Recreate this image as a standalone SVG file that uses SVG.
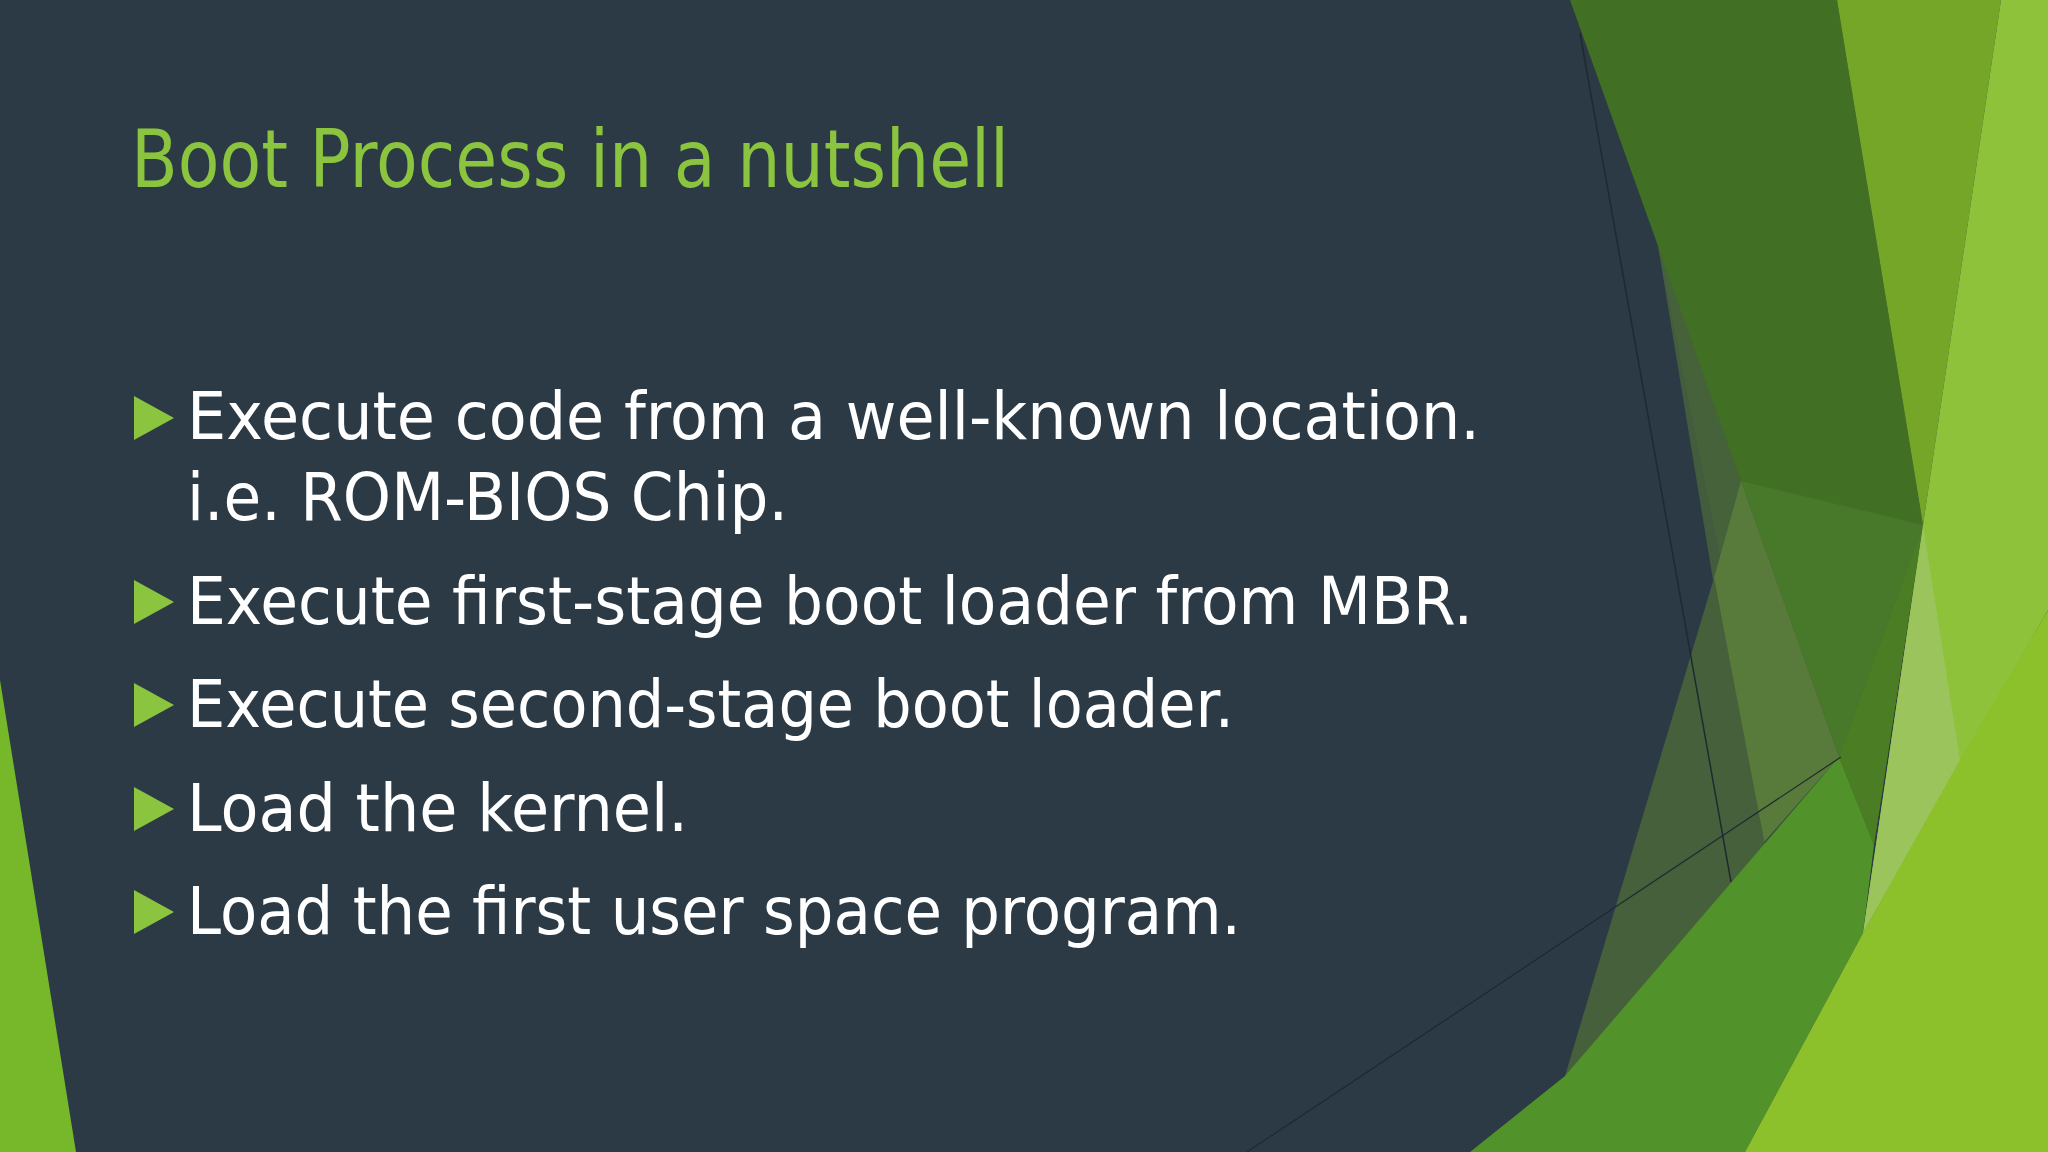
<svg xmlns="http://www.w3.org/2000/svg" width="2048" height="1152" viewBox="0 0 2048 1152">
<style>
.t{font-family:"DejaVu Sans","Liberation Sans",sans-serif;fill:#ffffff;font-size:66px}
.b{fill:#8bc43f}
</style>
<rect width="2048" height="1152" fill="#2b3a44"/>
<g id="facets">
<polygon points="0,680 76,1152 0,1152" fill="#76b82a"/>
<polygon points="1570,0 1837,0 1923,525 1874,845 1741,660 1658,246" fill="#416f24"/>
<polygon points="1741,481 1923,525 1839,757" fill="#48782a"/>
<polygon points="1658,246 1741,481 1839,757 1761,847 1713,580" fill="#46603e" opacity="0.9"/>
<polygon points="1741,481 1839,757 1763,843 1714,578" fill="#587a3a"/>
<polygon points="1714,578 1765,845 1560,1152 1565,1076" fill="#46603c"/>
<polygon points="1837,0 2001,0 1923,525" fill="#76a628"/>
<polygon points="2001,0 2048,0 2048,610 1863,933 1923,525" fill="#8dc23a"/>
<polygon points="1923,525 1960,760 1863,933" fill="#9bc55c"/>
<polygon points="1839,757 1874,845 1863,933 1745,1152 1470,1152 1565,1076" fill="#52922a"/>
<polygon points="1839,757 1923,525 1874,845" fill="#4a7d24"/>
<polygon points="2048,610 2048,1152 1745,1152 1863,933 1960,760" fill="#8cc12b"/>
<line x1="1580" y1="33" x2="1731" y2="882" stroke="#1e2a30" stroke-width="1.5"/>
<line x1="1247" y1="1152" x2="1841" y2="757" stroke="#1e2a30" stroke-width="1.2"/>
</g>
<text x="131" y="187" font-family="DejaVu Sans, sans-serif" font-size="80" fill="#8bc43f" textLength="878" lengthAdjust="spacingAndGlyphs">Boot Process in a nutshell</text>
<g id="bullets">
<polygon class="b" points="134,396 174,418 134,440"/>
<polygon class="b" points="134,580 174,602 134,624"/>
<polygon class="b" points="134,683 174,705 134,727"/>
<polygon class="b" points="134,787 174,809 134,831"/>
<polygon class="b" points="134,890 174,912 134,934"/>
<text class="t" x="187" y="439" textLength="1293" lengthAdjust="spacingAndGlyphs">Execute code from a well-known location.</text>
<text class="t" x="187" y="520" textLength="601" lengthAdjust="spacingAndGlyphs">i.e. ROM-BIOS Chip.</text>
<text class="t" x="187" y="624" textLength="1286" lengthAdjust="spacingAndGlyphs">Execute first-stage boot loader from MBR.</text>
<text class="t" x="187" y="727" textLength="1047" lengthAdjust="spacingAndGlyphs">Execute second-stage boot loader.</text>
<text class="t" x="187" y="831" textLength="501" lengthAdjust="spacingAndGlyphs">Load the kernel.</text>
<text class="t" x="187" y="934" textLength="1054" lengthAdjust="spacingAndGlyphs">Load the first user space program.</text>
</g>
</svg>
